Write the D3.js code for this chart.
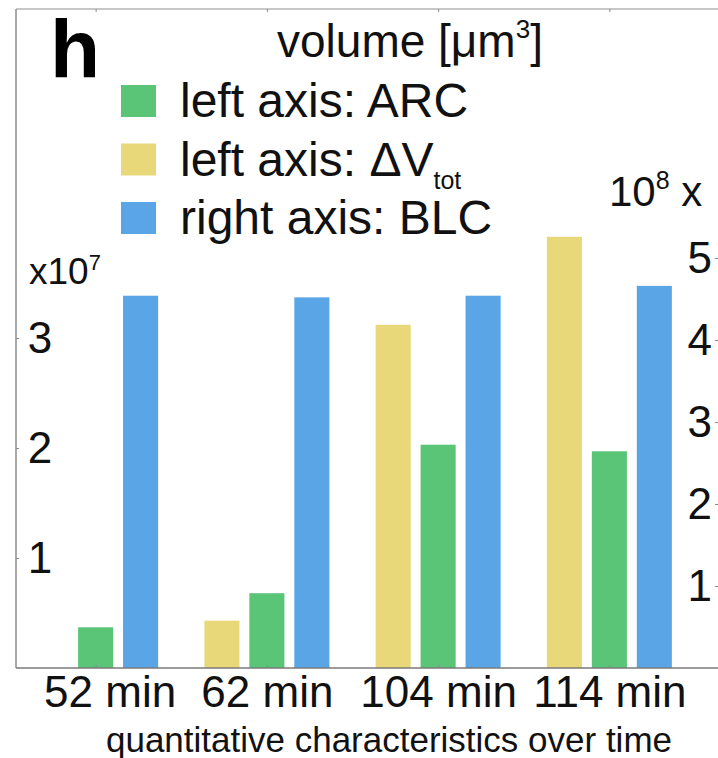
<!DOCTYPE html>
<html>
<head>
<meta charset="utf-8">
<script src="https://cdn.jsdelivr.net/npm/d3@7"></script>
<style>
  html, body { margin: 0; padding: 0; background: #fff; }
  #chart { width: 718px; height: 758px; }
  text { font-family: "Liberation Sans", Arial, sans-serif; fill: #111; }
  .graph__axis path { display: none; }
  .graph__axis line { stroke: #8a8a8a; }
</style>
</head>
<body>
<div id="chart"></div>
<script>
// values (left axis x10^7, right axis x10^8)
const categories = ["52 min", "62 min", "104 min", "114 min"];
const arcValues = [0.37, 0.68, 2.03, 1.97];
const dvTotValues = [null, 0.43, 3.12, 3.92];
const blcValues = [4.54, 4.52, 4.54, 4.66];
const leftTicks = [1, 2, 3];
const rightTicks = [1, 2, 3, 4, 5];

const seriesKeys = ["dv", "arc", "blc"];
const colors = { dv: "#e9d87a", arc: "#5ac577", blc: "#5aa5e6" };

const width = 718;
const height = 758;
const frameLeft = 16;
const frameRight = 719;
const frameTop = 9;
const baseY = 668;

const svg = d3.select("#chart")
  .append("svg")
  .attr("width", width)
  .attr("height", height);

const x0 = d3.scaleBand().domain(categories).range([frameLeft, 689]).paddingInner(0.27).paddingOuter(0.1);
const x1 = d3.scaleBand().domain(seriesKeys).range([0, x0.bandwidth()]).paddingInner(0.22);
const yLeft = d3.scaleLinear().domain([0, 6]).range([baseY, baseY - 660]);
const yRight = d3.scaleLinear().domain([0, 8]).range([baseY, baseY - 656]);

// frame
svg.append("line")
  .attr("x1", frameLeft).attr("x2", frameRight)
  .attr("y1", frameTop).attr("y2", frameTop)
  .attr("style", "stroke: #b4b4b4; stroke-width: 1.5;");

const rows = categories.map((c, i) => ({
  cat: c,
  dv: dvTotValues[i],
  arc: arcValues[i],
  blc: blcValues[i]
}));

const groups = svg.append("g")
  .selectAll("g")
  .data(rows)
  .join("g")
  .attr("transform", (d) => "translate(" + x0(d.cat) + ",0)");

groups.selectAll("rect")
  .data((d) => seriesKeys.map((k) => ({ key: k, value: d[k] })).filter((e) => e.value !== null))
  .join("rect")
  .attr("x", (e) => x1(e.key))
  .attr("width", x1.bandwidth())
  .attr("y", (e) => (e.key === "blc" ? yRight(e.value) : yLeft(e.value)))
  .attr("height", (e) => baseY - (e.key === "blc" ? yRight(e.value) : yLeft(e.value)))
  .attr("fill", (e) => colors[e.key]);

// left axis line and baseline
svg.append("line")
  .attr("x1", frameLeft).attr("x2", frameLeft)
  .attr("y1", frameTop).attr("y2", baseY)
  .attr("style", "stroke: #8c8c8c; stroke-width: 1.5;");
svg.append("line")
  .attr("x1", frameLeft).attr("x2", frameRight)
  .attr("y1", baseY).attr("y2", baseY)
  .attr("style", "stroke: #7a7a7a; stroke-width: 1.5;");

const centerScale = (c) => x0(c) + x0.bandwidth() / 2;
const xCenters = d3.scalePoint().domain(categories).range([centerScale(categories[0]), centerScale(categories[3])]);

// top ticks
svg.append("g")
  .attr("transform", "translate(0," + frameTop + ")")
  .attr("class", "graph__axis")
  .call(d3.axisTop(xCenters).tickSize(-3).tickFormat(""));

// bottom axis, first label sits a little right of its tick in the original
const xAxis = svg.append("g")
  .attr("transform", "translate(0," + baseY + ")")
  .attr("class", "graph__axis")
  .call(d3.axisBottom(xCenters).tickSize(-3).tickPadding(8));
xAxis.selectAll("text")
  .attr("dx", (d, i) => (i === 0 ? 14 : 0))
  .attr("style", "font-size: 44px;");

// left axis
const leftAxis = svg.append("g")
  .attr("transform", "translate(" + frameLeft + ",0)")
  .attr("class", "graph__axis")
  .call(d3.axisLeft(yLeft).tickValues(leftTicks).tickSize(-3).tickFormat((d) => d));
leftAxis.selectAll("text")
  .attr("x", 24)
  .attr("text-anchor", "middle")
  .attr("style", "font-size: 44px;");

// right axis
const rightAxis = svg.append("g")
  .attr("transform", "translate(" + frameRight + ",0)")
  .attr("class", "graph__axis")
  .call(d3.axisRight(yRight).tickValues(rightTicks).tickSize(-4).tickFormat((d) => d));
rightAxis.selectAll("text")
  .attr("x", -7)
  .attr("text-anchor", "end")
  .attr("style", "font-size: 44px;");

// exponent labels
const leftExp = svg.append("text")
  .attr("x", 29)
  .attr("y", 284)
  .attr("style", "font-size: 37px;");
leftExp.append("tspan").text("x10");
leftExp.append("tspan").attr("dy", -14).attr("style", "font-size: 22px;").text("7");

const rightExp = svg.append("text")
  .attr("x", 609)
  .attr("y", 206)
  .attr("style", "font-size: 42px;");
rightExp.append("tspan").text("10");
rightExp.append("tspan").attr("dy", -17).attr("style", "font-size: 25px;").text("8");
rightExp.append("tspan").attr("dy", 17).text(" x");

// panel letter and title
svg.append("text")
  .attr("x", 50)
  .attr("y", 77)
  .attr("style", "font-size: 82px; font-weight: bold; fill: #000;")
  .text("h");

const title = svg.append("text")
  .attr("x", 277)
  .attr("y", 57)
  .attr("style", "font-size: 46px;");
title.append("tspan").text("volume [μm");
title.append("tspan").attr("dy", -19).attr("style", "font-size: 26px;").text("3");
title.append("tspan").attr("dy", 19).text("]");

// legend
const legendItems = [
  { key: "arc", label: "left axis: ARC" },
  { key: "dv", label: "left axis: ΔV" },
  { key: "blc", label: "right axis: BLC" }
];

const legend = svg.append("g")
  .selectAll("g")
  .data(legendItems)
  .join("g")
  .attr("transform", (d, i) => "translate(121," + (85 + i * 58.5) + ")");

legend.append("rect")
  .attr("width", 35)
  .attr("height", 32)
  .attr("fill", (d) => colors[d.key]);

const legendText = legend.append("text")
  .attr("x", 59)
  .attr("y", 32)
  .attr("style", "font-size: 48px;");
legendText.append("tspan").text((d) => d.label);
legendText.filter((d) => d.key === "dv")
  .append("tspan")
  .attr("dy", 13)
  .attr("style", "font-size: 25px;")
  .text("tot");

// x axis title
svg.append("text")
  .attr("x", 389)
  .attr("y", 752)
  .attr("text-anchor", "middle")
  .attr("style", "font-size: 35px;")
  .text("quantitative characteristics over time");
</script>
</body>
</html>
